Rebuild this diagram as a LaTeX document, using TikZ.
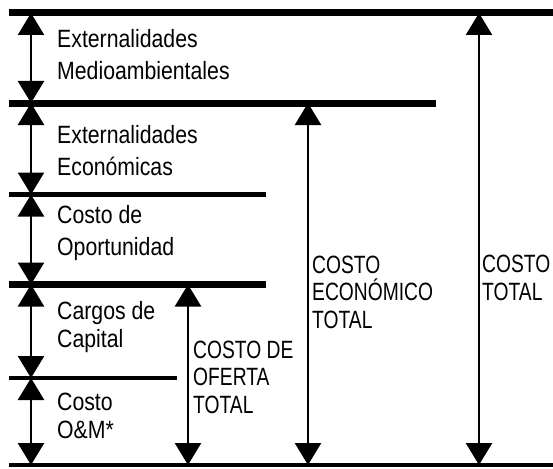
\documentclass[tikz,border=0pt]{standalone}
\usepackage{fontspec}
\setmainfont{Liberation Sans}[FakeStretch=0.85]
\newfontfamily\capsfont{Liberation Sans}[FakeStretch=0.77]
\usetikzlibrary{arrows.meta}

\begin{document}
\begin{tikzpicture}[
  x=1pt, y=-1pt,
  bar/.style={line width=7pt},
  thinbar/.style={line width=4.5pt},
  dim/.style={line width=2.5pt,
    {Triangle[width=26pt,length=22pt]}-{Triangle[width=26pt,length=22pt]}},
  lbl/.style={anchor=base west, align=left, inner sep=0pt,
    font=\fontsize{25}{32}\selectfont},
  caplbl/.style={lbl, font=\capsfont\fontsize{25}{27.5}\selectfont}
]
\useasboundingbox (0,0) rectangle (553,468);

% arrow ends on the bars
\coordinate (a0) at (31,13);
\coordinate (a1) at (31,103);
\coordinate (a2) at (31,194.5);
\coordinate (a3) at (31,284.5);
\coordinate (a4) at (31,378);
\coordinate (a5) at (31,465);
\coordinate (o3) at (188,284.5);
\coordinate (o5) at (188,465);
\coordinate (e1) at (308,103);
\coordinate (e5) at (308,465);
\coordinate (t0) at (479,13);
\coordinate (t5) at (479,465);

\draw [dim] (a0) -- (a1);
\draw [dim] (a1) -- (a2);
\draw [dim] (a2) -- (a3);
\draw [dim] (a3) -- (a4);
\draw [dim] (a4) -- (a5);
\draw [dim] (o3) -- (o5);
\draw [dim] (e1) -- (e5);
\draw [dim] (t0) -- (t5);

% bars
\draw [bar] (9,13) -- (553,13);
\draw [bar] (9,103) -- (436,103);
\draw [thinbar] (9,194.5) -- (266,194.5);
\draw [bar] (9,284.5) -- (266,284.5);
\draw [thinbar] (9,378) -- (177,378);
\draw [thinbar] (9,465) -- (553,465);

% labels (base = last line)
\node [lbl] (extmed) at (57,80) {Externalidades\\Medioambientales};
\node [lbl] (exteco) at (57,175) {Externalidades\\Económicas};
\node [lbl] (oport) at (57,255) {Costo de\\Oportunidad};
\node [lbl, font=\fontsize{25}{28}\selectfont] (capital) at (57,347) {Cargos de\\Capital};
\node [lbl, font=\fontsize{25}{28}\selectfont] (om) at (57,438) {Costo\\O\&M*};

\node [caplbl] (oferta) at (193,413) {COSTO DE\\OFERTA\\TOTAL};
\node [caplbl] (economico) at (312,328) {COSTO\\ECONÓMICO\\TOTAL};
\node [caplbl] (total) at (482,300) {COSTO\\TOTAL};
\end{tikzpicture}
\end{document}
